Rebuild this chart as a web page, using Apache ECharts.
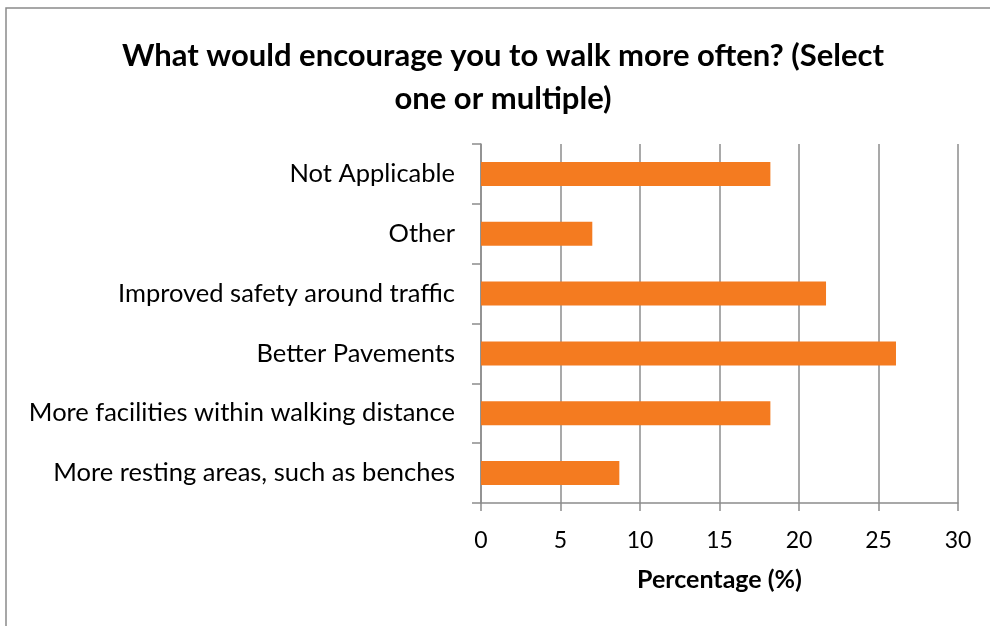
<!DOCTYPE html>
<html>
<head>
<meta charset="utf-8">
<script src="https://cdn.jsdelivr.net/npm/echarts@6/dist/echarts.min.js"></script>
<style>
  html, body { margin: 0; padding: 0; background: #fff; }
  #chart { width: 990px; height: 626px; }
</style>
</head>
<body>
<div id="chart"></div>
<script>
// 数据
const categories = [
  'Not Applicable',
  'Other',
  'Improved safety around traffic',
  'Better Pavements',
  'More facilities within walking distance',
  'More resting areas, such as benches'
]
const percentages = [18.2, 7.0, 21.7, 26.1, 18.2, 8.7]
const xTicks = [0, 5, 10, 15, 20, 25, 30]

const font = 'Lato, "Open Sans", sans-serif'
const gridColor = '#8c8c8c'

const mChart = echarts.init(document.getElementById('chart'))

const options = {
  animation: false,
  title: {
    text: 'What would encourage you to walk more often? (Select\none or multiple)',
    left: 498,
    top: 29,
    textAlign: 'center',
    textStyle: {
      fontFamily: font,
      fontWeight: 'bold',
      fontSize: 31,
      lineHeight: 43,
      color: '#000'
    }
  },
  graphic: [
    // 外框（只见左、上两边）
    {
      type: 'polyline',
      shape: { points: [[6, 626], [6, 8], [990, 8]] },
      style: { stroke: '#8a8a8a', lineWidth: 1.5, fill: null }
    }
  ],
  grid: {
    left: 481,
    right: 32,
    top: 144,
    bottom: 123
  },
  xAxis: {
    type: 'value',
    min: xTicks[0],
    max: xTicks[xTicks.length - 1],
    interval: xTicks[1] - xTicks[0],
    name: 'Percentage (%)',
    nameLocation: 'middle',
    nameGap: 64,
    nameTextStyle: {
      fontFamily: font,
      fontWeight: 'bold',
      fontSize: 25,
      color: '#000'
    },
    axisLine: { show: true, lineStyle: { color: gridColor, width: 1.5 } },
    axisTick: { show: true, length: 8, lineStyle: { color: gridColor, width: 1.5 } },
    axisLabel: {
      margin: 26,
      fontFamily: font,
      fontSize: 23,
      color: '#000'
    },
    splitLine: { show: true, lineStyle: { color: gridColor, width: 1.5 } }
  },
  yAxis: {
    type: 'category',
    inverse: true,
    data: categories,
    axisLine: { show: true, lineStyle: { color: gridColor, width: 1.5 } },
    axisTick: { show: true, length: 9, lineStyle: { color: gridColor, width: 1.5 } },
    axisLabel: {
      margin: 26,
      fontFamily: font,
      fontSize: 25.5,
      color: '#000'
    }
  },
  series: [
    {
      type: 'bar',
      data: percentages,
      barWidth: '40%',
      itemStyle: { color: '#F47B20' }
    }
  ]
}

mChart.setOption(options)
window.addEventListener('resize', () => {
  mChart.resize()
})
</script>
</body>
</html>
